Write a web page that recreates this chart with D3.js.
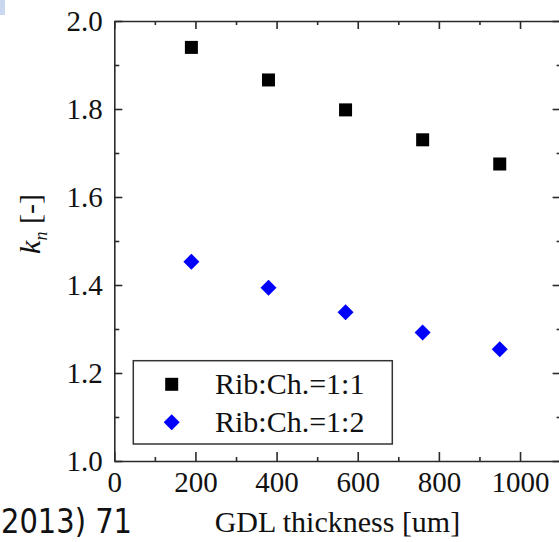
<!DOCTYPE html>
<html>
<head>
<meta charset="utf-8">
<script src="https://cdn.jsdelivr.net/npm/d3@7"></script>
<style>
  html, body { margin: 0; padding: 0; background: #fff; }
  svg { display: block; }
</style>
</head>
<body>
<svg id="chart" width="559" height="542"></svg>
<script>
// ---- data ----
const thickness = [190, 380, 570, 760, 950];
const kn11 = [1.940, 1.866, 1.798, 1.730, 1.675];
const kn12 = [1.453, 1.394, 1.338, 1.292, 1.254];
const seriesNames = ["Rib:Ch.=1:1", "Rib:Ch.=1:2"];
const xTicks = [0, 200, 400, 600, 800, 1000];
const xMinorTicks = [100, 300, 500, 700, 900];
const yTicks = [1.0, 1.2, 1.4, 1.6, 1.8, 2.0];
const yMinorTicks = [1.1, 1.3, 1.5, 1.7, 1.9];

(function () {
const svg = d3.select("#chart");
const pL = 114.3, pR = 560.6, pT = 21, pB = 461;

const x = d3.scaleLinear().domain([0, 1100]).range([pL, pR]);
const y = d3.scaleLinear().domain([1.0, 2.0]).range([pB, pT]);

const serif = "'Liberation Serif', 'Times New Roman', serif";
const axisColor = "#2a2a2a";

// small light-blue artifact in the top-left corner
svg.append("rect").attr("x", 0).attr("y", 0).attr("width", 5).attr("height", 15)
  .attr("fill", "#c9d8ef");

function styleAxis(g) {
  g.select(".domain").attr("stroke", axisColor).attr("stroke-width", 1.6);
  g.selectAll(".tick line").attr("stroke", axisColor).attr("stroke-width", 1.6);
}
function minorStyle(g) {
  g.select(".domain").remove();
  g.selectAll(".tick line").attr("stroke", axisColor).attr("stroke-width", 1.6);
}

// bottom axis (inward ticks)
const gB = svg.append("g").attr("transform", `translate(0,${pB})`)
  .call(d3.axisBottom(x).tickValues(xTicks).tickSize(-9).tickSizeOuter(0).tickPadding(10)
    .tickFormat(d3.format("d")));
styleAxis(gB);
gB.selectAll(".tick text").attr("font-family", serif).attr("font-size", 29).attr("fill", "#111");
svg.append("g").attr("transform", `translate(0,${pB})`)
  .call(d3.axisBottom(x).tickValues(xMinorTicks).tickSize(-4).tickSizeOuter(0).tickFormat(""))
  .call(minorStyle);

// top axis
const gT = svg.append("g").attr("transform", `translate(0,${pT})`)
  .call(d3.axisTop(x).tickValues(xTicks).tickSize(-8).tickSizeOuter(0).tickFormat(""));
styleAxis(gT);
svg.append("g").attr("transform", `translate(0,${pT})`)
  .call(d3.axisTop(x).tickValues(xMinorTicks).tickSize(-4).tickSizeOuter(0).tickFormat(""))
  .call(minorStyle);

// left axis
const gL = svg.append("g").attr("transform", `translate(${pL},0)`)
  .call(d3.axisLeft(y).tickValues(yTicks).tickSize(-8).tickSizeOuter(0).tickPadding(11.5)
    .tickFormat(d3.format(".1f")));
styleAxis(gL);
gL.selectAll(".tick text").attr("font-family", serif).attr("font-size", 29).attr("fill", "#111");
svg.append("g").attr("transform", `translate(${pL},0)`)
  .call(d3.axisLeft(y).tickValues(yMinorTicks).tickSize(-5).tickSizeOuter(0).tickFormat(""))
  .call(minorStyle);

// right axis (mostly off-canvas)
const gR = svg.append("g").attr("transform", `translate(${pR},0)`)
  .call(d3.axisRight(y).tickValues(yTicks).tickSize(-8).tickSizeOuter(0).tickFormat(""));
styleAxis(gR);
svg.append("g").attr("transform", `translate(${pR},0)`)
  .call(d3.axisRight(y).tickValues(yMinorTicks).tickSize(-4).tickSizeOuter(0).tickFormat(""))
  .call(minorStyle);

// markers
const sq = 13;
svg.append("g").selectAll("rect").data(thickness.map((t, i) => [t, kn11[i]])).join("rect")
  .attr("x", d => x(d[0]) - sq / 2).attr("y", d => y(d[1]) - sq / 2)
  .attr("width", sq).attr("height", sq).attr("fill", "#000");

const diamond = d3.symbol().type(d3.symbolSquare).size(128);
svg.append("g").selectAll("path").data(thickness.map((t, i) => [t, kn12[i]])).join("path")
  .attr("d", diamond)
  .attr("transform", d => `translate(${x(d[0])},${y(d[1])}) rotate(45)`)
  .attr("fill", "#0000ff");

// legend
const leg = svg.append("g");
leg.append("rect").attr("x", 133.3).attr("y", 360.7).attr("width", 259).attr("height", 83.3)
  .attr("fill", "#fff").attr("stroke", "#333").attr("stroke-width", 1.5);
leg.append("rect").attr("x", 171.7 - 6.5).attr("y", 384.3 - 6.5).attr("width", 13).attr("height", 13).attr("fill", "#000");
leg.append("path").attr("d", diamond).attr("transform", "translate(171.7,422.3) rotate(45)").attr("fill", "#0000ff");
leg.selectAll("text.lbl").data(seriesNames).join("text").attr("class", "lbl")
  .attr("x", 215).attr("y", (d, i) => [384.3, 422.3][i]).attr("dy", "0.33em")
  .attr("font-family", serif).attr("font-size", 30).attr("fill", "#111").text(d => d);

// axis titles
svg.append("text").attr("x", (pL + pR) / 2).attr("y", 532).attr("text-anchor", "middle")
  .attr("font-family", serif).attr("font-size", 30).attr("fill", "#111")
  .text("GDL thickness [um]");

const yt = svg.append("text").attr("transform", "translate(40,224) rotate(-90)")
  .attr("text-anchor", "middle").attr("font-family", serif).attr("font-size", 30).attr("fill", "#111");
yt.append("tspan").attr("font-style", "italic").text("k");
yt.append("tspan").attr("font-style", "italic").attr("font-size", 18).attr("dy", 7).text("n");
yt.append("tspan").attr("dy", -7).text(" [-]");

// caption fragment at bottom-left
svg.append("text").attr("x", 1).attr("y", 533).attr("text-anchor", "start")
  .attr("font-family", "'DejaVu Sans', sans-serif").attr("font-size", 34).attr("fill", "#111")
  .attr("textLength", 131).attr("lengthAdjust", "spacingAndGlyphs")
  .text("2013) 71");
})();
</script>
</body>
</html>
